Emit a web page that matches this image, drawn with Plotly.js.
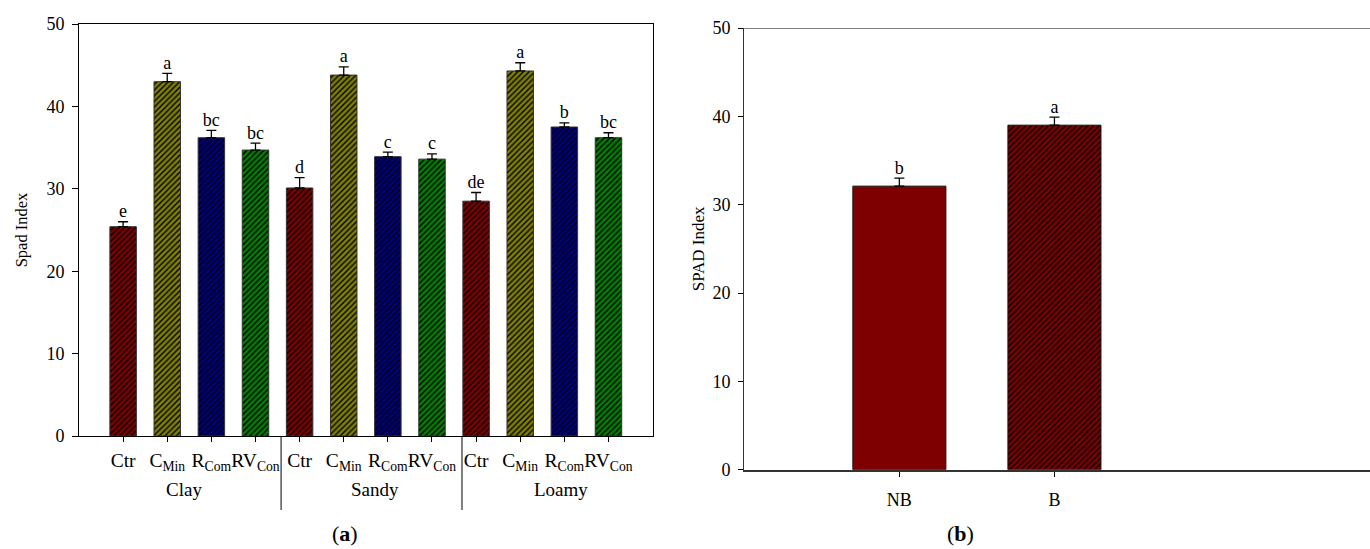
<!DOCTYPE html>
<html>
<head>
<meta charset="utf-8">
<script src="https://cdn.plot.ly/plotly-3.0.1.min.js"></script>
<style>
  html, body { margin: 0; padding: 0; background: #fff; overflow: hidden; }
  #chart { width: 1370px; height: 549px; }
</style>
</head>
<body>
<div id="chart"></div>
<script>
// ---- Data ----
const soilGroups = ['Clay', 'Sandy', 'Loamy'];
const treatments = ['Ctr', 'C<sub>Min</sub>', 'R<sub>Com</sub>', 'RV<sub>Con</sub>'];
const treatmentColors = ['#800000', '#808000', '#000080', '#008000'];

const spadClay  = [25.4, 43.0, 36.2, 34.7];
const spadSandy = [30.1, 43.8, 33.9, 33.6];
const spadLoamy = [28.5, 44.3, 37.5, 36.2];

const errClay  = [0.6, 1.0, 0.9, 0.85];
const errSandy = [1.25, 1.0, 0.55, 0.65];
const errLoamy = [1.05, 1.0, 0.5, 0.6];

const lettersClay  = ['e', 'a', 'bc', 'bc'];
const lettersSandy = ['d', 'a', 'c', 'c'];
const lettersLoamy = ['de', 'a', 'b', 'bc'];

// group boundaries on the category axis (divider lines)
const groupDividers = [3.58, 7.68];

const bioCats    = ['NB', 'B'];
const bioValues  = [32.1, 39.0];
const bioErr     = [0.9, 0.9];
const bioLetters = ['b', 'a'];
const bioColor   = '#7f0000';

// ---- Build traces ----
const FONT = '"Liberation Serif", "Times New Roman", Times, serif';

const groupVals = [spadClay, spadSandy, spadLoamy];
const groupErr = [errClay, errSandy, errLoamy];
const allVals = [].concat(spadClay, spadSandy, spadLoamy);
const allErr = [].concat(errClay, errSandy, errLoamy);
const allLetters = [].concat(lettersClay, lettersSandy, lettersLoamy);
const xIdx = allVals.map((_, i) => i);
const tickLabels = [].concat(treatments, treatments, treatments);
const nT = treatments.length;

// one bar trace per treatment (so each gets a scalar colour with black hatching)
const tracesA = treatments.map((t, ti) => {
  const xs = soilGroups.map((_, gi) => gi * nT + ti);
  const ys = soilGroups.map((_, gi) => groupVals[gi][ti]);
  const es = soilGroups.map((_, gi) => groupErr[gi][ti]);
  return {
    type: 'bar', x: xs, y: ys, xaxis: 'x', yaxis: 'y',
    width: 0.6,
    marker: {
      color: treatmentColors[ti],
      line: { color: '#333', width: 1 },
      pattern: { shape: '/', fillmode: 'overlay', fgcolor: '#000', fgopacity: 1, size: 4, solidity: 0.35 }
    },
    error_y: { type: 'data', symmetric: false, array: es, arrayminus: es.map(() => 0),
               visible: true, color: '#000', thickness: 1.3, width: 5 },
    hoverinfo: 'skip', showlegend: false
  };
});

const lettersA = {
  type: 'scatter', mode: 'text', x: xIdx, y: allVals.map((v, i) => v + allErr[i]),
  text: allLetters, textposition: 'top center',
  textfont: { family: FONT, size: 18, color: '#000' },
  xaxis: 'x', yaxis: 'y', hoverinfo: 'skip', showlegend: false, cliponaxis: false
};

const bIdx = bioCats.map((_, i) => i);
const traceB = {
  type: 'bar', x: bIdx, y: bioValues, xaxis: 'x2', yaxis: 'y2',
  width: 0.6,
  marker: {
    color: bioColor,
    line: { color: '#111', width: 1 },
    pattern: { shape: ['', '/'], fillmode: 'overlay', fgcolor: '#000', fgopacity: 1, size: 4, solidity: 0.35 }
  },
  error_y: { type: 'data', symmetric: false, array: bioErr, arrayminus: bioErr.map(() => 0),
             visible: true, color: '#000', thickness: 1.3, width: 5 },
  hoverinfo: 'skip', showlegend: false
};

const lettersB = {
  type: 'scatter', mode: 'text', x: bIdx, y: bioValues.map((v, i) => v + bioErr[i]),
  text: bioLetters, textposition: 'top center',
  textfont: { family: FONT, size: 18, color: '#000' },
  xaxis: 'x2', yaxis: 'y2', hoverinfo: 'skip', showlegend: false, cliponaxis: false
};

// ---- Group labels & dividers ----
const bounds = [-1].concat(groupDividers, [12]);
const annotations = soilGroups.map((g, i) => ({
  text: g, xref: 'x', yref: 'paper',
  x: (bounds[i] + bounds[i + 1]) / 2 + 0.08, y: 1 - 489 / 549,
  xanchor: 'center', yanchor: 'middle',
  showarrow: false, font: { family: FONT, size: 19, color: '#000' }
}));
annotations.push({
  text: '(<b>a</b>)', xref: 'paper', yref: 'paper', x: 345 / 1370, y: 1 - 533 / 549,
  xanchor: 'center', yanchor: 'middle',
  showarrow: false, font: { family: FONT, size: 22, color: '#000' }
});
annotations.push({
  text: '(<b>b</b>)', xref: 'paper', yref: 'paper', x: 960 / 1370, y: 1 - 533 / 549,
  xanchor: 'center', yanchor: 'middle',
  showarrow: false, font: { family: FONT, size: 22, color: '#000' }
});

const shapes = groupDividers.map(d => ({
  type: 'line', xref: 'x', yref: 'paper', x0: d, x1: d,
  y0: 1 - 510 / 549, y1: 1 - 436 / 549,
  line: { color: '#000', width: 1 }
}));
// top frame line of panel (b)
shapes.push({
  type: 'line', xref: 'paper', yref: 'y2', x0: 744.3 / 1370, x1: 1, y0: 50, y1: 50,
  line: { color: '#555', width: 1.3 }
});

const layout = {
  width: 1370, height: 549,
  margin: { l: 0, r: 0, t: 0, b: 0, pad: 0 },
  paper_bgcolor: '#fff', plot_bgcolor: '#fff',
  font: { family: FONT, color: '#000' },
  barmode: 'overlay',
  xaxis: {
    domain: [79 / 1370, 652.6 / 1370], anchor: 'y',
    range: [-1, 12], tickmode: 'array', tickvals: xIdx, ticktext: tickLabels,
    tickangle: 0,
    ticks: 'outside', ticklen: 5, tickwidth: 1, tickcolor: '#000',
    tickfont: { family: FONT, size: 19.5, color: '#000' },
    ticklabelstandoff: 2,
    showline: true, mirror: true, linecolor: '#000', linewidth: 1,
    showgrid: false, zeroline: false, fixedrange: true
  },
  yaxis: {
    domain: [(549 - 436) / 549, (549 - 24) / 549], anchor: 'x',
    range: [0, 50], dtick: 10, tick0: 0,
    ticks: 'outside', ticklen: 6, tickwidth: 1, tickcolor: '#000',
    tickfont: { family: FONT, size: 18, color: '#000' },
    ticklabelstandoff: 4,
    showline: true, mirror: true, linecolor: '#000', linewidth: 1,
    showgrid: false, zeroline: false, fixedrange: true,
    title: { text: 'Spad Index', font: { family: FONT, size: 16.5, color: '#000' }, standoff: 14 }
  },
  xaxis2: {
    domain: [744.3 / 1370, 1], anchor: 'y2',
    range: [-1, 3.035], tickmode: 'array', tickvals: bIdx, ticktext: bioCats,
    tickangle: 0,
    ticks: 'outside', ticklen: 5, tickwidth: 1, tickcolor: '#000',
    tickfont: { family: FONT, size: 18, color: '#000' },
    ticklabelstandoff: 8,
    showline: true, mirror: false, linecolor: '#333', linewidth: 2,
    showgrid: false, zeroline: false, fixedrange: true
  },
  yaxis2: {
    domain: [(549 - 469.7) / 549, (549 - 28) / 549], anchor: 'x2',
    range: [0, 50], dtick: 10, tick0: 0,
    ticks: 'outside', ticklen: 5, tickwidth: 1, tickcolor: '#000',
    tickfont: { family: FONT, size: 18, color: '#000' },
    ticklabelstandoff: 4,
    showline: true, mirror: false, linecolor: '#333', linewidth: 1.3,
    showgrid: false, zeroline: false, fixedrange: true,
    title: { text: 'SPAD Index', font: { family: FONT, size: 17, color: '#000' }, standoff: 3 }
  },
  annotations: annotations,
  shapes: shapes
};

Plotly.newPlot('chart', tracesA.concat([lettersA, traceB, lettersB]), layout, { staticPlot: true, displayModeBar: false });
</script>
</body>
</html>
